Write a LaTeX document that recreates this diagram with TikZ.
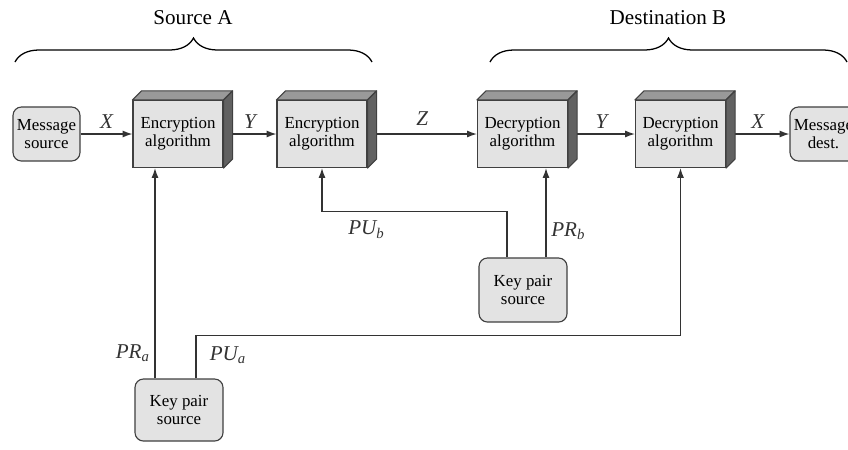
\documentclass[tikz,border=0pt]{standalone}
\usepackage{fontspec}
\setmainfont{Liberation Serif}
\usepackage{tikz}
\usetikzlibrary{positioning,arrows.meta,decorations.pathreplacing}

\begin{document}
\begin{tikzpicture}[x=0.025cm,y=-0.025cm,font=\fontsize{12}{13}\selectfont,
  algbox/.style={draw=black!75,line width=0.8pt,fill=black!11,minimum width=2.25cm,minimum height=1.675cm,align=center,inner sep=1pt},
  endbox/.style={draw=black!75,line width=0.8pt,fill=black!11,rounded corners=6pt,align=center,minimum width=1.675cm,minimum height=1.35cm,inner sep=1pt},
  keybox/.style={endbox,minimum width=2.2cm,minimum height=1.55cm},
  wire/.style={black!80,line width=0.9pt},
  arr/.style={wire,-{Latex[length=7pt,width=5pt]}},
  lbl/.style={font=\fontsize{15}{16}\selectfont\itshape},
  head/.style={font=\fontsize{15}{16}\selectfont}]
\clip (0,0) rectangle (848,449);
\node[endbox] (msrc) at (46.5,134) {Message\\source};
\node[algbox] (enc1) at (178,134) {Encryption\\algorithm};
\node[algbox] (enc2) at (322,134) {Encryption\\algorithm};
\node[algbox] (dec1) at (522.5,134) {Decryption\\algorithm};
\node[algbox] (dec2) at (680.5,134) {Decryption\\algorithm};
\node[endbox] (mdst) at (823.5,134) {Message\\dest.};
\node[keybox] (keyA) at (179,410) {Key pair\\source};
\node[keybox,minimum height=1.6cm] (keyB) at (523,290) {Key pair\\source};
\node[head] (srcA) at (193,18) {Source A};
\node[head] (dstB) at (668,18) {Destination B};
\draw[line width=0.9pt,decorate,decoration={brace,amplitude=0.6cm}] (15,62) -- (372,62);
\draw[line width=0.9pt,decorate,decoration={brace,amplitude=0.6cm}] (490,62) -- (847,62);
\draw[arr] (msrc) -- node[lbl,above]{X} (enc1);
\draw[arr] (enc1) -- node[lbl,above]{Y} (enc2);
\draw[arr] (enc2) -- node[lbl,above=2pt]{Z} (dec1);
\draw[arr] (dec1) -- node[lbl,above]{Y} (dec2);
\draw[arr] (dec2) -- node[lbl,above]{X} (mdst);
\draw[arr] ([xshift=-0.6cm]keyA.north) -- node[lbl,left,pos=0.12]{PR\textsubscript{a}} ([xshift=-0.6cm]keyA.north |- enc1.south);
\draw[arr] ([xshift=0.425cm]keyA.north) -- node[lbl,right=6pt,pos=0.55]{PU\textsubscript{a}} ++(0,-43) -| (dec2.south);
\draw[arr] ([xshift=-0.4cm]keyB.north) -- ++(0,-46) -| node[lbl,below=3pt,pos=0.38]{PU\textsubscript{b}} (enc2.south);
\draw[arr] ([xshift=0.575cm]keyB.north) -- node[lbl,right,pos=0.29]{PR\textsubscript{b}} ([xshift=0.575cm]keyB.north |- dec1.south);
\foreach \n in {enc1,enc2,dec1,dec2} {
  \filldraw[fill=black!40,draw=black!75,line width=0.8pt,line join=round] (\n.north west) -- ++(9,-9) -- ([shift={(9,-9)}]\n.north east) -- (\n.north east) -- cycle;
  \filldraw[fill=black!62,draw=black!75,line width=0.8pt,line join=round] (\n.north east) -- ++(9,-9) -- ([shift={(9,-9)}]\n.south east) -- (\n.south east) -- cycle;
}
\end{tikzpicture}
\end{document}
